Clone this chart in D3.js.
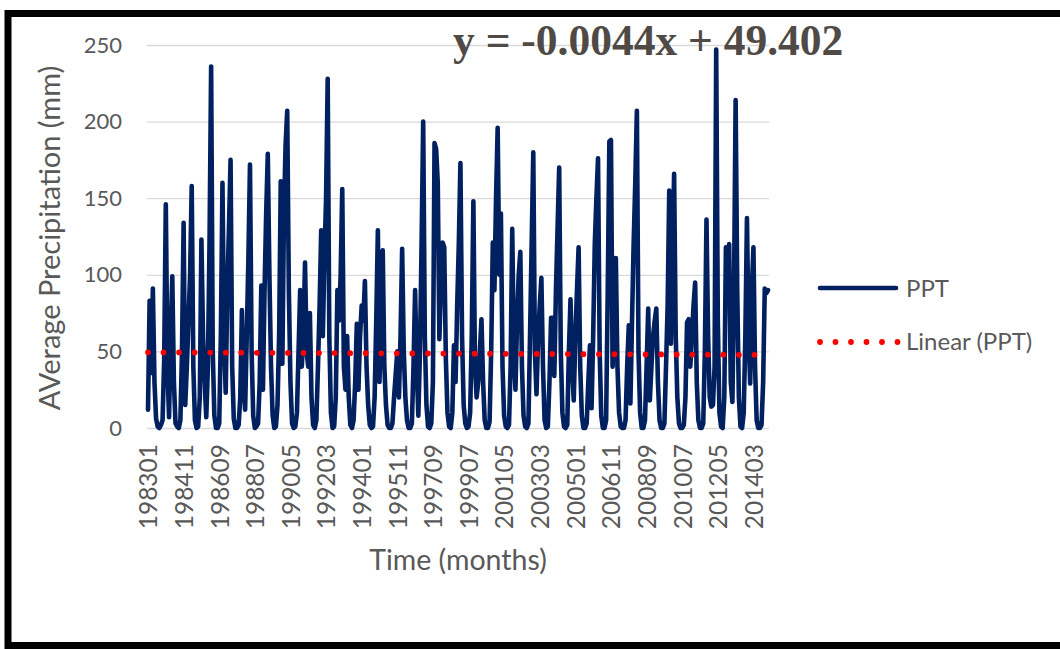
<!DOCTYPE html>
<html><head><meta charset="utf-8">
<script src="https://cdn.jsdelivr.net/npm/d3@7"></script>
<style>body{margin:0;background:#fff;} svg{display:block;}</style>
</head><body>
<svg id="c" width="1060" height="649"></svg>
<script>
// Monthly average precipitation (mm), Jan 1983 .. Dec 2014 (one row per year)
const ppt = [
  12, 83, 36, 91, 30, 6, 1, 0, 2, 5, 45, 146,      // 1983
  40, 7, 60, 99, 30, 3, 1, 0, 5, 50, 134, 15,      // 1984
  40, 70, 100, 158, 40, 5, 0, 1, 20, 123, 60, 30,  // 1985
  7, 40, 120, 236, 50, 8, 0, 0, 3, 60, 160, 60,    // 1986
  23, 90, 130, 175, 40, 6, 0, 0, 2, 20, 77, 30,    // 1987
  12, 60, 110, 172, 50, 8, 0, 1, 3, 30, 93, 25,    // 1988
  90, 140, 179, 100, 40, 8, 0, 1, 15, 60, 161, 42, // 1989
  140, 185, 207, 90, 30, 3, 0, 1, 10, 50, 90, 40,  // 1990
  60, 108, 50, 40, 75, 20, 2, 0, 5, 40, 80, 129,   // 1991
  60, 110, 150, 228, 60, 10, 0, 1, 20, 90, 70, 100,// 1992
  156, 40, 25, 60, 20, 2, 0, 5, 30, 68, 25, 60,    // 1993
  80, 70, 96, 40, 15, 2, 0, 1, 20, 70, 129, 30,    // 1994
  80, 116, 40, 15, 2, 0, 0, 3, 20, 35, 50, 20,     // 1995
  60, 117, 50, 20, 5, 0, 0, 3, 40, 90, 40, 8,      // 1996
  50, 120, 200, 60, 15, 1, 0, 3, 30, 186, 182, 160,// 1997
  58, 95, 121, 118, 45, 10, 1, 0, 10, 54, 30, 80,  // 1998
  120, 173, 60, 15, 3, 0, 1, 10, 60, 148, 40, 20,  // 1999
  30, 50, 71, 30, 5, 0, 0, 4, 50, 121, 90, 150,    // 2000
  196, 100, 140, 40, 8, 1, 0, 2, 40, 130, 50, 25,  // 2001
  70, 100, 115, 40, 8, 1, 0, 3, 60, 120, 180, 50,  // 2002
  22, 60, 80, 98, 40, 5, 0, 1, 30, 72, 72, 34,     // 2003
  90, 130, 170, 50, 10, 1, 0, 2, 50, 84, 40, 18,   // 2004
  60, 90, 118, 40, 8, 0, 0, 3, 30, 54, 13, 60,     // 2005
  120, 150, 176, 50, 8, 0, 0, 5, 90, 187, 188, 40, // 2006
  80, 111, 40, 10, 1, 0, 0, 5, 40, 67, 16, 70,     // 2007
  120, 160, 207, 50, 10, 0, 0, 5, 40, 78, 18, 40,  // 2008
  60, 70, 78, 30, 5, 0, 0, 3, 40, 80, 155, 55,     // 2009
  110, 166, 60, 20, 3, 0, 0, 2, 20, 69, 71, 40,    // 2010
  60, 80, 95, 30, 5, 0, 0, 3, 50, 136, 60, 20,     // 2011
  14, 15, 40, 247, 70, 10, 1, 0, 20, 118, 100, 120,// 2012
  30, 17, 90, 214, 90, 20, 1, 0, 10, 60, 137, 60,  // 2013
  29, 90, 118, 40, 5, 0, 0, 2, 30, 91, 88, 90      // 2014
];
const startYear = 1983;
const months = ppt.map((_, i) => `${startYear + Math.floor(i / 12)}${String(i % 12 + 1).padStart(2, "0")}`);
const tickLabels = ["198301","198411","198609","198807","199005","199203","199401","199511","199709",
                    "199907","200105","200303","200501","200611","200809","201007","201205","201403"];
const yTicks = [0, 50, 100, 150, 200, 250];
const trendSlope = -0.0044;
const trendIntercept = 49.402;
const equationText = "y = -0.0044x + 49.402";
const seriesName = "PPT";
const trendName = "Linear (PPT)";
const xTitle = "Time (months)";
const yTitle = "AVerage Precipitation (mm)";

const svg = d3.select("#c");
const FONT = "Lato, 'Open Sans', sans-serif";
const GRAY = "#595959";

// frame
svg.append("rect").attr("x", 0).attr("y", 0).attr("width", 1060).attr("height", 649).attr("fill", "#fff");
svg.append("rect").attr("x", 8).attr("y", 13.5).attr("width", 1070).attr("height", 632)
  .attr("fill", "none").attr("stroke", "#000").attr("stroke-width", 7);

const plotL = 147, plotR = 769, plotT = 45, plotB = 428;
const x = d3.scalePoint().domain(months).range([148, 768]);
const y = d3.scaleLinear().domain([0, 250]).range([plotB, plotT]);

// y axis + gridlines
const gy = svg.append("g").attr("transform", `translate(${plotL},0)`)
  .call(d3.axisLeft(y).tickValues(yTicks).tickSize(-(plotR - plotL)).tickPadding(25));
gy.select(".domain").remove();
gy.selectAll(".tick line").attr("stroke", "#d9d9d9").attr("stroke-width", 1.3);
gy.selectAll(".tick text").attr("fill", GRAY).style("font-family", FONT).style("font-size", "22px");

// x axis labels
const gx = svg.append("g").attr("transform", `translate(0,${plotB})`)
  .call(d3.axisBottom(x).tickValues(tickLabels).tickSize(0));
gx.select(".domain").remove();
gx.selectAll(".tick text")
  .attr("transform", "rotate(-90)")
  .attr("text-anchor", "end")
  .attr("x", -16).attr("y", 0).attr("dy", "0.36em")
  .attr("fill", GRAY).style("font-family", FONT).style("font-size", "24.5px");

// series line
const line = d3.line().x((d, i) => x(months[i])).y(d => y(d));
svg.append("path").datum(ppt).attr("d", line)
  .attr("fill", "none").attr("stroke", "#002060").attr("stroke-width", 4.6)
  .attr("stroke-linejoin", "round").attr("stroke-linecap", "round");

// trend line
const trendVals = ppt.map((_, i) => trendSlope * (i + 1) + trendIntercept);
svg.append("path").datum(trendVals).attr("d", line)
  .attr("fill", "none").attr("stroke", "#ff0000").attr("stroke-width", 5.8)
  .attr("stroke-linecap", "round").attr("stroke-dasharray", "0 15.55");

// equation
svg.append("text").attr("x", 453).attr("y", 55).text(equationText)
  .attr("fill", "#4f4a45").style("font-family", "'Liberation Serif', serif")
  .style("font-weight", "bold").style("font-size", "43.5px");

// axis titles
svg.append("text").attr("x", 458).attr("y", 570).attr("text-anchor", "middle").text(xTitle)
  .attr("fill", GRAY).style("font-family", FONT).style("font-size", "28.5px");
svg.append("text").attr("transform", "translate(60,238) rotate(-90)").attr("text-anchor", "middle").text(yTitle)
  .attr("fill", GRAY).style("font-family", FONT).style("font-size", "29px");

// legend
const lg = svg.append("g");
lg.append("line").attr("x1", 820).attr("x2", 896).attr("y1", 288).attr("y2", 288)
  .attr("stroke", "#002060").attr("stroke-width", 4.6).attr("stroke-linecap", "round");
lg.append("text").attr("x", 906).attr("y", 297).text(seriesName)
  .attr("fill", GRAY).style("font-family", FONT).style("font-size", "24px");
lg.append("line").attr("x1", 820).attr("x2", 898).attr("y1", 342).attr("y2", 342)
  .attr("stroke", "#ff0000").attr("stroke-width", 5.8).attr("stroke-linecap", "round")
  .attr("stroke-dasharray", "0 15.5");
lg.append("text").attr("x", 906).attr("y", 350).text(trendName)
  .attr("fill", GRAY).style("font-family", FONT).style("font-size", "24px");
</script>
</body></html>
